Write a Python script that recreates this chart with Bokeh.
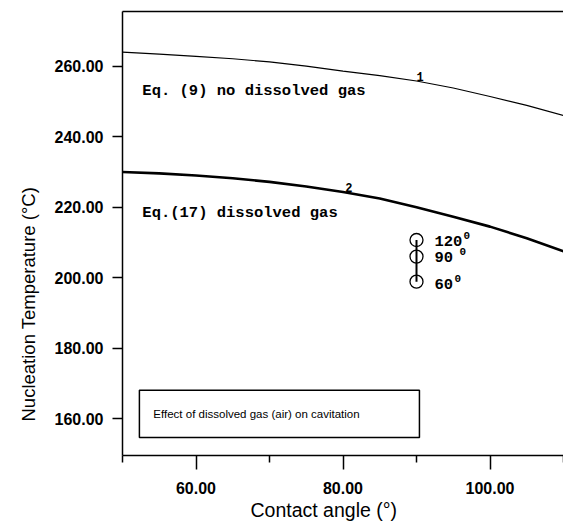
from bokeh.plotting import figure
from bokeh.models import (LinearAxis, FixedTicker, PrintfTickFormatter, Label,
                          BoxAnnotation, ColumnDataSource, Title)
from bokeh.core.properties import value
from bokeh.embed import file_html
from bokeh.resources import INLINE

# Contact angle (degrees) and nucleation temperature (deg C)
angle = [50, 55, 60, 65, 70, 75, 80, 85, 90, 95, 100, 105, 110]
t_no_gas = [264.0, 263.4, 262.8, 262.1, 261.2, 260.0, 258.6, 257.3, 255.8,
            253.8, 251.4, 248.9, 246.0]
t_dissolved = [230.0, 229.6, 229.0, 228.2, 227.2, 225.9, 224.3, 222.5, 220.0,
               217.3, 214.5, 211.2, 207.5]

# Measured points at a contact angle of 90 degrees
meas_angle = [90, 90, 90]
meas_temp = [210.7, 206.0, 198.9]
meas_labels = ["120", "90", "60"]

x_ticks = [60, 80, 100]
x_minor = [50, 70, 90, 110]
y_ticks = [160, 180, 200, 220, 240, 260]

MONO = "Liberation Mono"
SANS = "Liberation Sans"

p = figure(width=563, height=524, x_range=(50, 110), y_range=(149.6, 275.5),
           output_backend="svg", toolbar_location=None,
           x_axis_location=None, y_axis_location=None,
           min_border_left=122, min_border_right=0,
           min_border_top=11, min_border_bottom=68)
p.xgrid.visible = False
p.ygrid.visible = False
p.outline_line_color = None
p.background_fill_color = "white"
p.border_fill_color = "white"

# left axis
ya = LinearAxis(ticker=FixedTicker(ticks=y_ticks, minor_ticks=[]),
                formatter=PrintfTickFormatter(format="%.2f"))
ya.axis_line_color = "black"
ya.axis_line_width = 1.5
ya.major_tick_out = 10
ya.major_tick_in = 0
ya.major_tick_line_width = 1.5
ya.minor_tick_out = 0
ya.minor_tick_in = 0
ya.major_label_standoff = 9
ya.major_label_text_font = SANS
ya.major_label_text_font_style = "bold"
ya.major_label_text_font_size = "16px"
ya.major_label_text_color = "black"
p.add_layout(ya, "left")

# bottom axis
xa = LinearAxis(ticker=FixedTicker(ticks=x_ticks, minor_ticks=x_minor),
                formatter=PrintfTickFormatter(format="%.2f"))
xa.axis_line_color = "black"
xa.axis_line_width = 1.5
xa.major_tick_out = 14
xa.major_tick_in = 0
xa.major_tick_line_width = 1.5
xa.minor_tick_out = 7
xa.minor_tick_in = 0
xa.minor_tick_line_width = 1.5
xa.minor_tick_line_color = "black"
xa.major_label_standoff = 12
xa.major_label_text_font = SANS
xa.major_label_text_font_style = "bold"
xa.major_label_text_font_size = "16px"
xa.major_label_text_color = "black"
p.add_layout(xa, "below")

# top frame line (no ticks, no labels)
ta = LinearAxis(ticker=FixedTicker(ticks=[]))
ta.axis_line_color = "black"
ta.axis_line_width = 1.5
ta.major_tick_out = 0
ta.major_tick_in = 0
ta.minor_tick_out = 0
ta.minor_tick_in = 0
ta.major_label_standoff = 0
ta.major_label_text_font_size = "0px"
p.add_layout(ta, "above")

# axis titles as side titles, shifted along their axes
ytitle = Title(text="Nucleation Temperature  (\u00b0C)", align="left",
               offset=34, vertical_align="top", standoff=22,
               text_font=SANS, text_font_size="18.5px",
               text_font_style="normal", text_color="black")
p.add_layout(ytitle, "left")
xtitle = Title(text="Contact angle (\u00b0)", align="left", offset=128,
               vertical_align="top", standoff=4,
               text_font=SANS, text_font_size="19.5px",
               text_font_style="normal", text_color="black")
p.add_layout(xtitle, "below")

# curves
p.line(angle, t_no_gas, line_color="black", line_width=1.2)
p.line(angle, t_dissolved, line_color="black", line_width=2.6)

# curve numbers
p.text(x=[90.5, 80.8], y=[257.1, 225.6], text=["1", "2"],
       text_font=value(MONO), text_font_style="bold", text_font_size="12px",
       text_align="center", text_baseline="middle", text_color="black")

# curve captions
p.text(x=[52.7, 52.7], y=[253.0, 218.4],
       text=["Eq. (9) no dissolved gas", "Eq.(17) dissolved gas"],
       text_font=value(MONO), text_font_style="bold", text_font_size="15.5px",
       text_align="left", text_baseline="middle", text_color="black")

# measured points with their angle labels (degree shown as raised 0)
src = ColumnDataSource(dict(x=meas_angle, y=meas_temp, lab=meas_labels,
                            sup=["0", "0", "0"],
                            ly=[0.5, 0.5, 2.3],
                            sx=[47, 43, 38], sy=[-4.5, -5.5, -2.7]))
p.line("x", "y", source=src, line_color="black", line_width=2)
p.scatter("x", "y", source=src, marker="circle", size=13, fill_color=None,
          line_color="black", line_width=1.3)
p.text(x="x", y="y", text="lab", source=src, x_offset=18, y_offset="ly",
       text_font=value(MONO), text_font_style="bold", text_font_size="15.5px",
       text_align="left", text_baseline="middle", text_color="black")
p.text(x="x", y="y", text="sup", source=src, x_offset="sx", y_offset="sy",
       text_font=value(MONO), text_font_style="bold", text_font_size="11px",
       text_align="left", text_baseline="middle", text_color="black")

# caption box
box = BoxAnnotation(left=52.3, right=90.4, bottom=154.7, top=168.1,
                    fill_alpha=0, line_color="black", line_alpha=1,
                    line_width=1.5)
p.add_layout(box)
p.add_layout(Label(x=54.2, y=161.4,
                   text="Effect of dissolved gas (air) on cavitation",
                   text_font=SANS, text_font_size="11.5px",
                   text_align="left", text_baseline="middle",
                   text_color="black"))

open("out.html", "w").write(file_html(p, INLINE))
